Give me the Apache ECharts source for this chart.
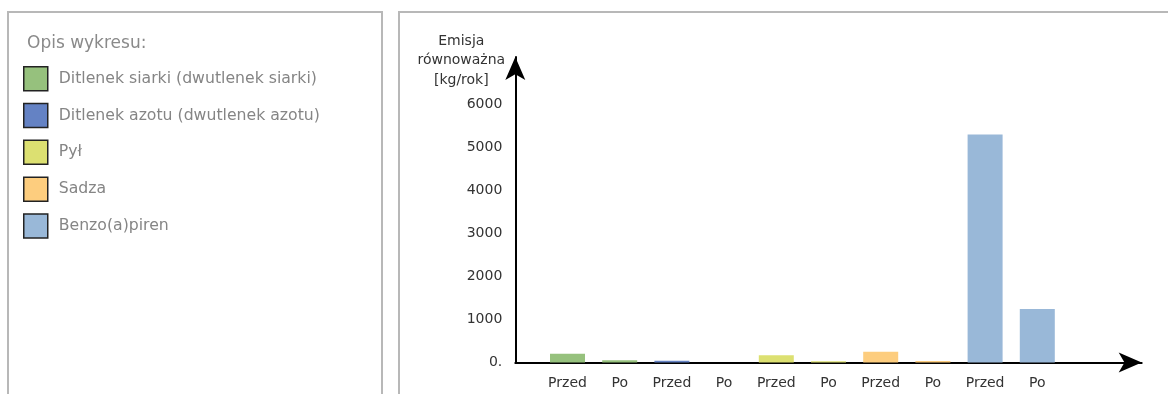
<!DOCTYPE html>
<html>
<head>
<meta charset="utf-8">
<script src="https://cdn.jsdelivr.net/npm/echarts@6/dist/echarts.min.js"></script>
<style>
html,body{margin:0;padding:0;background:#fff;}
#c{width:1168px;height:394px;}
</style>
</head>
<body>
<div id="c"></div>
<script>
// ---- data ----
var categories = ['Przed','Po','Przed','Po','Przed','Po','Przed','Po','Przed','Po'];
var seriesNames = ['Ditlenek siarki (dwutlenek siarki)','Ditlenek azotu (dwutlenek azotu)','Pył','Sadza','Benzo(a)piren'];
var so2 = [204, 51];
var no2 = [40, 0];
var pyl = [167, 30];
var sadza = [250, 35];
var bap = [5290, 1240];
var yTicks = [0, 1000, 2000, 3000, 4000, 5000, 6000];
var seriesValues = [so2, no2, pyl, sadza, bap];
var colors = ['#96c17d','#6482c4','#dce071','#fdcd7e','#99b8d8'];

var FONT = 'DejaVu Sans';
var chart = echarts.init(document.getElementById('c'), null, {renderer:'canvas'});

var series = seriesNames.map(function(name, si){
  return {
    name: name,
    type: 'bar',
    barWidth: 35,
    barGap: '-100%',
    itemStyle: {color: colors[si]},
    data: seriesValues[si].map(function(v, j){ return [si*2 + j + 1, v]; })
  };
});

chart.setOption({
  animation: false,
  backgroundColor: '#fff',
  graphic: [
    {type:'rect', shape:{x:8, y:12, width:374, height:400}, style:{fill:'none', stroke:'#b8b8b8', lineWidth:2}, silent:true},
    {type:'rect', shape:{x:399, y:12, width:800, height:400}, style:{fill:'none', stroke:'#b8b8b8', lineWidth:2}, silent:true}
  ],
  title: {
    text: 'Opis wykresu:',
    left: 22, top: 30,
    textStyle: {fontFamily: FONT, fontSize: 17, fontWeight: 'normal', color: '#8a8a8a'}
  },
  legend: {
    orient: 'vertical',
    left: 18, top: 61,
    itemWidth: 24, itemHeight: 24, itemGap: 11.3,
    icon: 'rect',
    itemStyle: {borderColor: '#222', borderWidth: 1.5},
    textStyle: {fontFamily: FONT, fontSize: 15.7, color: '#858585', padding: [0,0,0,6]},
    data: seriesNames,
    selectedMode: false
  },
  grid: {left: 515.3, right: 26.3, top: 57, bottom: 31.5, containLabel: false},
  xAxis: {
    type: 'value', min: 0, max: 12, interval: 1,
    splitLine: {show: false},
    axisTick: {show: false},
    axisLine: {show: true, lineStyle: {color: '#000', width: 2}, symbol: ['none','arrow'], symbolSize: [15, 23], symbolOffset: [0, 0]},
    axisLabel: {
      margin: 14, fontFamily: FONT, fontSize: 14, color: '#333',
      formatter: function(v){ var i = Math.round(v) - 1; return (Math.abs(v - Math.round(v)) < 1e-6 && i >= 0 && i < categories.length) ? categories[i] : ''; },
      showMinLabel: true, showMaxLabel: false
    }
  },
  yAxis: {
    type: 'value', min: 0, max: 7090, interval: 1000,
    splitLine: {show: false},
    axisTick: {show: false},
    axisLine: {show: true, lineStyle: {color: '#000', width: 2}, symbol: ['none','arrow'], symbolSize: [15, 23], symbolOffset: [0, 0]},
    axisLabel: {
      margin: 13, fontFamily: FONT, fontSize: 14, color: '#333',
      formatter: function(v){ if (yTicks.indexOf(v) < 0) return ''; return v === 0 ? '0.' : String(v); }
    },
    name: 'Emisja\nrównoważna\n[kg/rok]',
    nameLocation: 'end',
    nameGap: -33,
    nameTextStyle: {fontFamily: FONT, fontSize: 14, color: '#333', lineHeight: 19.5, align: 'center', padding: [0, 108, 0, 0]}
  },
  series: series
});
</script>
</body>
</html>
